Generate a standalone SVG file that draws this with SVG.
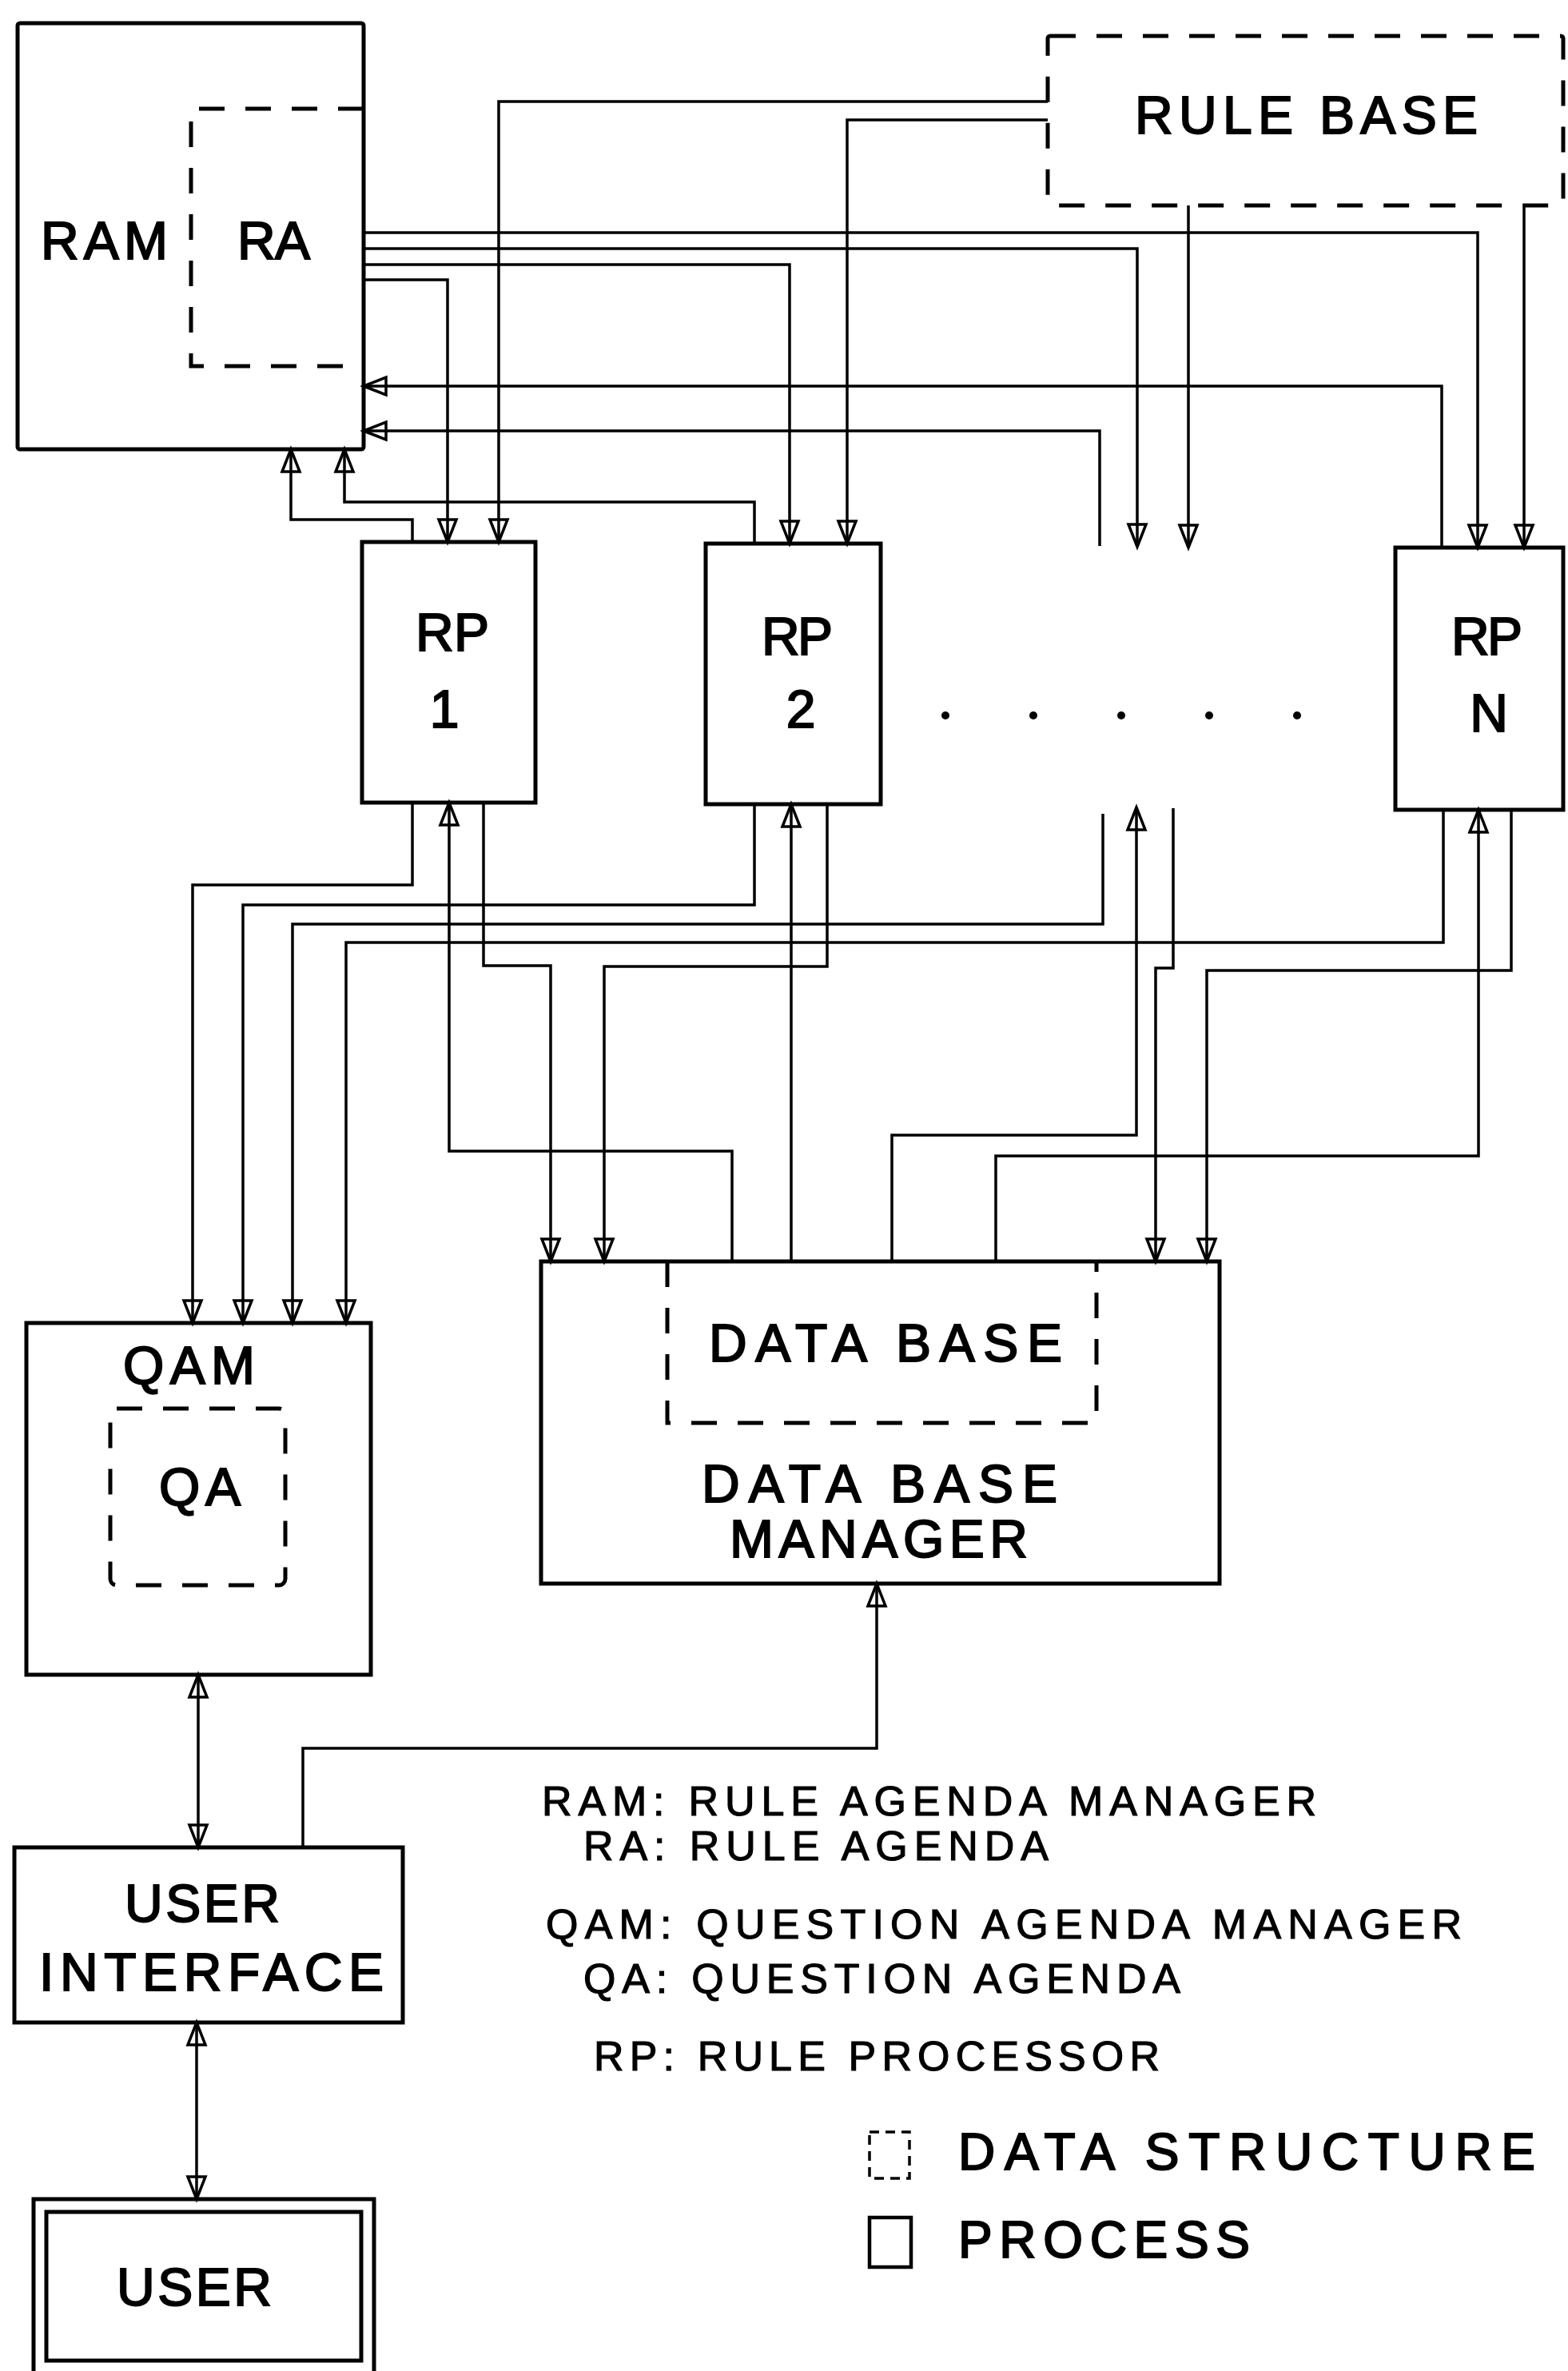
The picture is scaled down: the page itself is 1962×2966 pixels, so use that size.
<svg xmlns="http://www.w3.org/2000/svg" width="1962" height="2966" viewBox="0 0 1962 2966">
<style>
.box{fill:none;stroke:#000;stroke-width:5}
.dash{fill:none;stroke:#000;stroke-width:5;stroke-dasharray:32 26}
.ln{fill:none;stroke:#000;stroke-width:3.5}
.arr{marker-end:url(#ah)}
.both{marker-end:url(#ah);marker-start:url(#ah)}
.lbl{font-family:"Liberation Sans",Arial,sans-serif;font-size:66px;fill:#000;stroke:#000;stroke-width:2}
.leg{font-family:"Liberation Sans",Arial,sans-serif;font-size:52px;fill:#000;stroke:#000;stroke-width:1.2}
.leg2{font-family:"Liberation Sans",Arial,sans-serif;font-size:64px;fill:#000;stroke:#000;stroke-width:2}
</style>
<defs>
<marker id="ah" viewBox="-34 -14 40 28" refX="0" refY="0" markerWidth="40" markerHeight="28" markerUnits="userSpaceOnUse" orient="auto-start-reverse">
<path d="M0,0 L-28,-11 L-28,11 Z" fill="none" stroke="#000" stroke-width="3.5"/>
</marker>
</defs>
<rect width="1962" height="2966" fill="#fff"/>

<g id="connectors">
<path class="ln arr" d="M455,291 H1849 V685"/>
<path class="ln arr" d="M455,311 H1423 V684"/>
<path class="ln arr" d="M455,331 H988 V680"/>
<path class="ln arr" d="M455,350 H560 V678"/>
<path class="ln arr" d="M1311,127 H624 V678"/>
<path class="ln arr" d="M1311,150 H1060 V680"/>
<path class="ln arr" d="M1487,257 V685"/>
<path class="ln arr" d="M1907,259 V685"/>
<path class="ln arr" d="M1804,685 V483 H455"/>
<path class="ln arr" d="M1376,683 V539 H455"/>
<path class="ln arr" d="M516,678 V650 H364 V562"/>
<path class="ln arr" d="M944,680 V628 H431 V562"/>
<path class="ln arr" d="M516,1004 V1107 H241 V1655"/>
<path class="ln arr" d="M944,1006 V1132 H304 V1655"/>
<path class="ln arr" d="M1380,1018 V1156 H366 V1655"/>
<path class="ln arr" d="M1806,1013 V1179 H433 V1655"/>
<path class="ln arr" d="M916,1578 V1440 H562 V1004"/>
<path class="ln arr" d="M605,1004 V1208 H689 V1578"/>
<path class="ln arr" d="M990,1578 V1006"/>
<path class="ln arr" d="M1035,1006 V1209 H756 V1578"/>
<path class="ln arr" d="M1116,1578 V1420 H1422 V1010"/>
<path class="ln arr" d="M1468,1011 V1211 H1446 V1578"/>
<path class="ln arr" d="M1246,1578 V1446 H1850 V1013"/>
<path class="ln arr" d="M1891,1013 V1214 H1510 V1578"/>
<path class="ln both" d="M248,2095 V2311"/>
<path class="ln arr" d="M379,2311 V2187 H1097 V1981"/>
<path class="ln both" d="M246,2530 V2751"/>
</g>

<g id="ram">
<rect class="box" x="22" y="29" width="433" height="533" rx="3"/>
<text class="lbl" x="51" y="324" textLength="159" lengthAdjust="spacing">RAM</text>
</g>
<g id="ra">
<path class="dash" d="M455,136 H239 V458 H455"/>
<text class="lbl" x="297" y="324" textLength="91" lengthAdjust="spacing">RA</text>
</g>
<g id="rulebase">
<rect class="dash" x="1311" y="45" width="645" height="212" rx="3"/>
<text class="lbl" x="1420" y="167" textLength="429" lengthAdjust="spacing">RULE BASE</text>
</g>
<g id="rp1">
<rect class="box" x="453" y="678" width="217" height="326"/>
<text class="lbl" x="520" y="814" textLength="92" lengthAdjust="spacing">RP</text>
<text class="lbl" x="556" y="910" text-anchor="middle">1</text>
</g>
<g id="rp2">
<rect class="box" x="883" y="680" width="219" height="326"/>
<text class="lbl" x="953" y="819" textLength="89" lengthAdjust="spacing">RP</text>
<text class="lbl" x="1002" y="910" text-anchor="middle">2</text>
</g>
<g id="dots">
<circle cx="1183" cy="895" r="5"/>
<circle cx="1293" cy="895" r="5"/>
<circle cx="1403" cy="895" r="5"/>
<circle cx="1513" cy="895" r="5"/>
<circle cx="1623" cy="895" r="5"/>
</g>
<g id="rpn">
<rect class="box" x="1746" y="685" width="210" height="328"/>
<text class="lbl" x="1816" y="819" textLength="89" lengthAdjust="spacing">RP</text>
<text class="lbl" x="1863" y="915" text-anchor="middle">N</text>
</g>
<g id="qam">
<rect class="box" x="33" y="1655" width="431" height="440"/>
<text class="lbl" x="154" y="1731" textLength="165" lengthAdjust="spacing">QAM</text>
</g>
<g id="qa">
<rect class="dash" x="138" y="1762" width="219" height="221" rx="8"/>
<text class="lbl" x="199" y="1883" textLength="102" lengthAdjust="spacing">QA</text>
</g>
<g id="dbm">
<rect class="box" x="677" y="1578" width="849" height="403"/>
<text class="lbl" x="878" y="1879" textLength="445" lengthAdjust="spacing">DATA BASE</text>
<text class="lbl" x="913" y="1948" textLength="373" lengthAdjust="spacing">MANAGER</text>
</g>
<g id="db">
<path class="dash" d="M835,1578 V1780 H1372 V1578"/>
<text class="lbl" x="887" y="1703" textLength="442" lengthAdjust="spacing">DATA BASE</text>
</g>
<g id="ui">
<rect class="box" x="18" y="2311" width="486" height="219"/>
<text class="lbl" x="156" y="2404" textLength="194" lengthAdjust="spacing">USER</text>
<text class="lbl" x="49" y="2490" textLength="431" lengthAdjust="spacing">INTERFACE</text>
</g>
<g id="user">
<rect class="box" x="42" y="2751" width="426" height="260"/>
<rect class="box" x="58" y="2767" width="394" height="186"/>
<text class="lbl" x="146" y="2884" textLength="194" lengthAdjust="spacing">USER</text>
</g>
<g id="legend">
<text class="leg" x="678" y="2271" textLength="969" lengthAdjust="spacing">RAM: RULE AGENDA MANAGER</text>
<text class="leg" x="730" y="2327" textLength="582" lengthAdjust="spacing">RA: RULE AGENDA</text>
<text class="leg" x="683" y="2425" textLength="1146" lengthAdjust="spacing">QAM: QUESTION AGENDA MANAGER</text>
<text class="leg" x="730" y="2493" textLength="747" lengthAdjust="spacing">QA: QUESTION AGENDA</text>
<text class="leg" x="743" y="2590" textLength="708" lengthAdjust="spacing">RP: RULE PROCESSOR</text>
<rect x="1088" y="2667" width="50" height="58" fill="none" stroke="#000" stroke-width="3.5" stroke-dasharray="12 8"/>
<text class="leg2" x="1199" y="2714" textLength="722" lengthAdjust="spacing">DATA STRUCTURE</text>
<rect x="1088" y="2774" width="52" height="62" fill="none" stroke="#000" stroke-width="4.5"/>
<text class="leg2" x="1199" y="2824" textLength="365" lengthAdjust="spacing">PROCESS</text>
</g>
</svg>
